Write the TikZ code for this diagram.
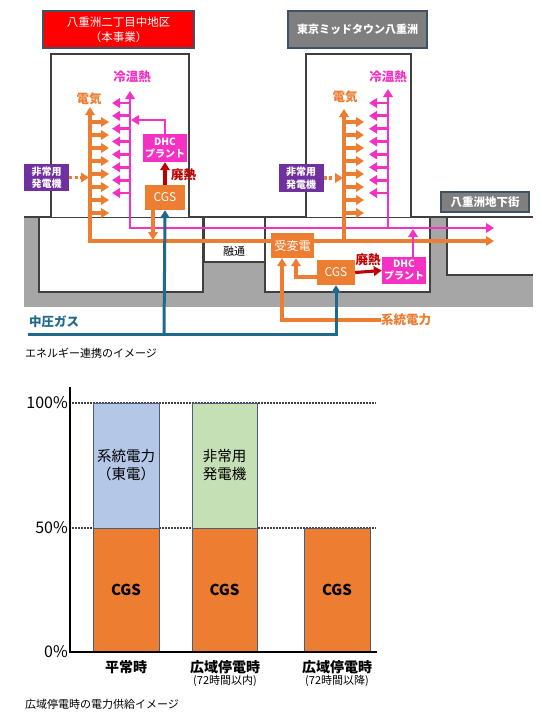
\documentclass[tikz,border=0pt]{standalone}
\usepackage{fontspec}
\setmainfont{Noto Sans CJK JP}
\usetikzlibrary{arrows.meta}
\definecolor{cOr}{HTML}{ED7D31}
\definecolor{cMg}{HTML}{F531C4}
\definecolor{cPu}{HTML}{7030A0}
\definecolor{cRd}{HTML}{C00000}
\definecolor{cGas}{HTML}{1F6A8C}
\definecolor{cGround}{HTML}{A6A6A6}
\definecolor{cBoxGray}{HTML}{7F7F7F}
\definecolor{cBorder}{HTML}{3E5466}
\definecolor{cLine}{HTML}{404040}
\definecolor{cBlue}{HTML}{B4C7E7}
\definecolor{cGreen}{HTML}{C5E0B4}
\definecolor{cBarEdge}{HTML}{4C5D7A}
\tikzset{
  outline/.style={draw=cLine, line width=1.4pt},
  titlebox/.style={draw=cBorder, line width=1.2pt, text=white, align=center, inner sep=0pt},
  orbox/.style={fill=cOr, text=white, inner sep=0pt, align=center},
  dhcbox/.style={fill=cMg, text=white, inner sep=0pt, align=center, font=\bfseries\fontsize{10}{12}\selectfont},
  pgbox/.style={fill=cPu, text=white, inner sep=0pt, align=center, font=\bfseries\fontsize{10}{12.5}\selectfont},
  oline/.style={draw=cOr, line width=3.1pt},
  mline/.style={draw=cMg, line width=2.9pt},
  gline/.style={draw=cGas, line width=3pt},
  rline/.style={draw=cRd, line width=3.1pt},
  tipend/.style={-{Triangle[length=8pt,width=9.5pt]}},
  tipboth/.style={{Triangle[length=8pt,width=9.5pt]}-{Triangle[length=8pt,width=9.5pt]}},
  tipstart/.style={{Triangle[length=8pt,width=9.5pt]}-},
  dotarrow/.style={draw=cOr, line width=3.1pt, dash pattern=on 2.8pt off 2.8pt, -{Triangle[length=8pt,width=9.5pt]}},
  lbl/.style={font=\bfseries\fontsize{12.5}{14}\selectfont, inner sep=0pt},
  bar/.style={draw=cBarEdge, line width=1pt, inner sep=0pt, align=center, font=\fontsize{14.5}{18}\selectfont},
  guide/.style={draw=cLine, line width=1.4pt, dash pattern=on 1.5pt off 1.5pt},
  cat/.style={font=\bfseries\fontsize{14}{16}\selectfont, inner sep=0pt},
  subcat/.style={font=\fontsize{11}{13}\selectfont, inner sep=0pt},
  caption/.style={font=\fontsize{11}{13}\selectfont, inner sep=0pt, anchor=west},
}
\begin{document}
\begin{tikzpicture}[x=1pt,y=-1pt]
\useasboundingbox (0,0) rectangle (541,720);
\fill[white] (0,0) rectangle (541,720);

% ---------- ground ----------
\fill[cGround] (24,217) rectangle (533,307);
\draw[outline, fill=white] (39,217) rectangle (203,292);
\draw[outline, fill=white] (204.5,217) rectangle (265,262);
\draw[outline, fill=white] (265,217) rectangle (430,292);
\fill[white] (447,217) rectangle (533,275);
\draw[outline] (533,275) -- (447,275) -- (447,217);
\draw[outline] (24,217) -- (533,217);
\node[font=\fontsize{11}{12}\selectfont, inner sep=0pt] (yuzu) at (234,251) {融通};

% ---------- buildings ----------
\draw[outline, fill=white] (51,217) -- (51,54) -- (189,54) -- (189,217);
\draw[outline, fill=white] (306,217) -- (306,54) -- (411,54) -- (411,217);

% ---------- title boxes ----------
\node[titlebox, fill=red, minimum width=151pt, minimum height=37pt, font=\fontsize{11.5}{15}\selectfont] (t1) at (118.5,29.5) {八重洲二丁目中地区\\（本事業）};
\node[titlebox, fill=cBoxGray, minimum width=139pt, minimum height=37pt, font=\bfseries\fontsize{11}{14}\selectfont] (t2) at (357.5,29.5) {東京ミッドタウン八重洲};
\node[titlebox, fill=cBoxGray, minimum width=88pt, minimum height=20pt, font=\bfseries\fontsize{11.5}{13}\selectfont] (t3) at (485,202) {八重洲地下街};

% ---------- coordinates ----------
\coordinate (mL) at (130,228);
\coordinate (mLtop) at (130,91);
\coordinate (mEnd) at (494,228);
\coordinate (mR) at (388,228);
\coordinate (mRtop) at (388,89);
\coordinate (eL) at (90,241);
\coordinate (eLtop) at (90,107);
\coordinate (eEnd) at (494,241);
\coordinate (eR) at (344,241);
\coordinate (eRtop) at (344,109);
\coordinate (gasStart) at (28,334);
\coordinate (gasL) at (164,334);
\coordinate (gasR) at (336,334);

% ---------- nodes ----------
\node[orbox, minimum width=40pt, minimum height=25pt, font=\fontsize{12}{13}\selectfont] (cgsL) at (165,197.5) {CGS};
\node[dhcbox, minimum width=44pt, minimum height=28pt] (dhcL) at (165,148) {DHC\\プラント};
\node[pgbox, minimum width=45pt, minimum height=27pt] (pgL) at (46.5,177.5) {非常用\\発電機};
\node[orbox, minimum width=43pt, minimum height=25pt, font=\fontsize{12}{13}\selectfont] (jhd) at (292.5,245.5) {受変電};
\node[orbox, minimum width=38pt, minimum height=25pt, font=\fontsize{12}{13}\selectfont] (cgsR) at (336,272.5) {CGS};
\node[dhcbox, minimum width=44pt, minimum height=27pt] (dhcR) at (404,270.5) {DHC\\プラント};
\node[pgbox, minimum width=45pt, minimum height=28pt] (pgR) at (301,178) {非常用\\発電機};

% labels
\node[lbl, text=cOr] (elL) at (89,99) {電気};
\node[lbl, text=cMg] (htL) at (132,77) {冷温熱};
\node[lbl, text=cOr] (elR) at (345,97) {電気};
\node[lbl, text=cMg] (htR) at (388,77) {冷温熱};
\node[lbl, text=cRd, anchor=west] (whL) at (171,175) {廃熱};
\node[lbl, text=cRd] (whR) at (368,260) {廃熱};
\node[lbl, text=cOr, anchor=west] (grid) at (381,320) {系統電力};
\node[lbl, text=cGas, anchor=west] (gasLbl) at (29,322) {中圧ガス};

% ---------- magenta (heat) ----------
\draw[mline, tipboth] (mLtop) -- (mL) -- (mEnd);
\draw[mline, tipstart] (mRtop) -- (mR);
\foreach \i in {0,...,7}{
  \draw[mline, tipend] (130,103+12.85*\i) -- (112,103+12.85*\i);
  \draw[mline, tipend] (388,103+12.85*\i) -- (369,103+12.85*\i);
}
\draw[mline, tipend] (dhcL.north) -- (165,120) -- (131,120);

% ---------- orange (electricity) ----------
\draw[oline, tipstart] (eLtop) -- (eL) -- (jhd.west |- eL);
\draw[oline, tipend] (jhd.east |- eL) -- (eEnd);
\draw[oline, tipstart] (eRtop) -- (eR);
\foreach \i in {0,...,7}{
  \draw[oline, tipend] (90,122+13*\i) -- (109,122+13*\i);
  \draw[oline, tipend] (344,122+13*\i) -- (364,122+13*\i);
}
\draw[oline, tipend] ([xshift=-12pt]cgsL.south) -- (153,240);
\draw[dotarrow] (pgL.east) -- (89,177.5);
\draw[dotarrow] (pgR.east) -- (343,178);
\draw[oline, tipend] (grid.west) -- (282,320) -- ([xshift=-10.5pt]jhd.south);
\draw[oline, tipend] ([yshift=-4.5pt]cgsR.west) -- (296,277) -- ([xshift=3.5pt]jhd.south);

% magenta from right DHC
\draw[mline, tipend] ([xshift=9pt]dhcR.north) -- (413,229);

% ---------- red (waste heat) ----------
\draw[rline, tipend] (cgsL.north) -- (dhcL.south);
\draw[rline, tipend] (cgsR.east) -- (dhcR.west);

% ---------- gas ----------
\draw[gline, tipend] (gasStart) -- (gasR) -- (cgsR.south);
\draw[gline, tipend] (gasL) -- (cgsL.south);

% redraw box on top
\node[orbox, minimum width=43pt, minimum height=25pt, font=\fontsize{12}{13}\selectfont] at (jhd) {受変電};

% caption 1
\node[caption] (cap1) at (25,353) {エネルギー連携のイメージ};

% ---------- chart ----------
\draw[guide] (72,403) -- (376,403);
\draw[guide] (72,528) -- (376,528);
\node[bar, fill=cBlue, minimum width=66pt, minimum height=125pt] (b1t) at (126,465.5) {系統電力\\（東電）};
\node[bar, fill=cOr, minimum width=66pt, minimum height=124pt, font=\bfseries\fontsize{15}{18}\selectfont] (b1b) at (126,590) {CGS};
\node[bar, fill=cGreen, minimum width=65pt, minimum height=125pt] (b2t) at (224.5,465.5) {非常用\\発電機};
\node[bar, fill=cOr, minimum width=65pt, minimum height=124pt, font=\bfseries\fontsize{15}{18}\selectfont] (b2b) at (224.5,590) {CGS};
\node[bar, fill=cOr, minimum width=66pt, minimum height=124pt, font=\bfseries\fontsize{15}{18}\selectfont] (b3b) at (337,590) {CGS};
\draw[line width=2.4pt] (70,387) -- (70,652) -- (377,652);
\node[anchor=east, inner sep=0pt, font=\fontsize{16}{18}\selectfont] (p100) at (68,403) {100\%};
\node[anchor=east, inner sep=0pt, font=\fontsize{16}{18}\selectfont] (p50) at (68,528) {50\%};
\node[anchor=east, inner sep=0pt, font=\fontsize{16}{18}\selectfont] (p0) at (68,652) {0\%};
\node[cat] (c1) at (126,667) {平常時};
\node[cat] (c2) at (225,667) {広域停電時};
\node[subcat] (c2s) at (225,681) {(72時間以内)};
\node[cat] (c3) at (337,667) {広域停電時};
\node[subcat] (c3s) at (337,681) {(72時間以降)};
\node[caption] (cap2) at (25,704) {広域停電時の電力供給イメージ};
\end{tikzpicture}
\end{document}
